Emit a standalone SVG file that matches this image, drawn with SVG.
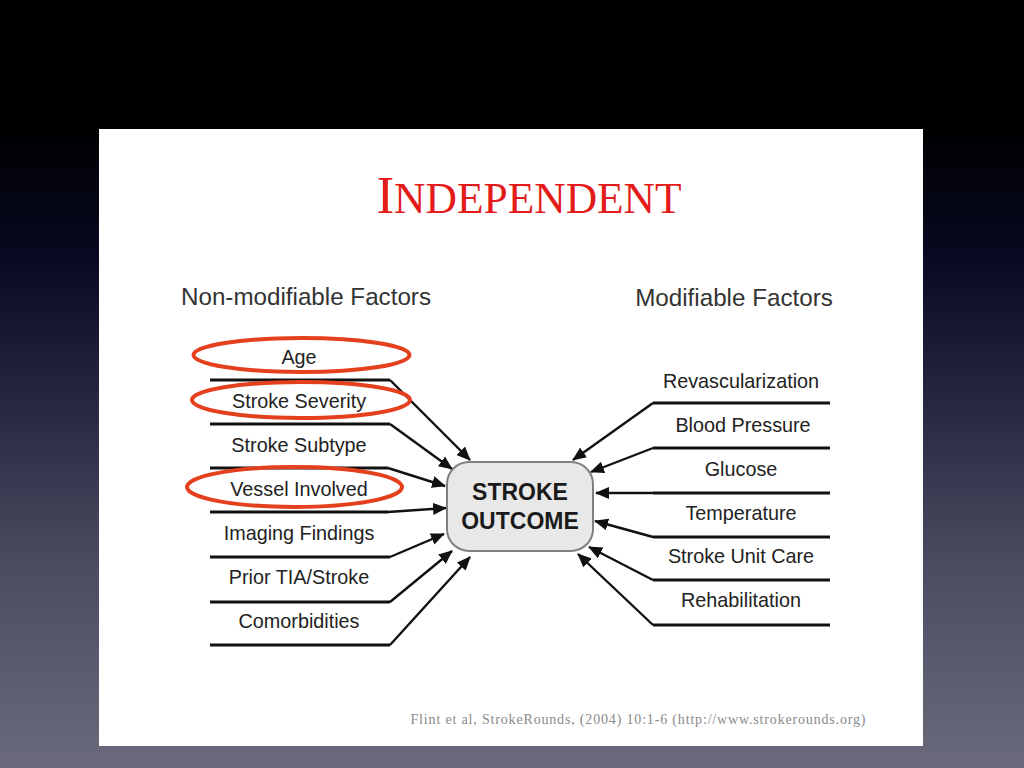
<svg xmlns="http://www.w3.org/2000/svg" width="1024" height="768" viewBox="0 0 1024 768">
<defs>
<linearGradient id="bg" x1="0" y1="0" x2="0" y2="768" gradientUnits="userSpaceOnUse">
<stop offset="0" stop-color="#000"/>
<stop offset="0.16" stop-color="#000"/>
<stop offset="0.33" stop-color="#070920"/>
<stop offset="0.52" stop-color="#25273f"/>
<stop offset="0.73" stop-color="#4a4b60"/>
<stop offset="1" stop-color="#6a6a7c"/>
</linearGradient>
<marker id="ah" viewBox="0 0 14 12" refX="13" refY="6" markerWidth="14" markerHeight="12" markerUnits="userSpaceOnUse" orient="auto">
<path d="M0,0 L14,6 L0,12 Z" fill="#111"/>
</marker>
<style>
.lbl{font-family:"Liberation Sans",Arial,sans-serif;font-size:19.8px;fill:#222;text-anchor:middle}
.hdr{font-family:"Liberation Sans",Arial,sans-serif;font-size:24.2px;fill:#333;text-anchor:middle}
.ln{fill:none;stroke:#111;stroke-width:2.8}
.arr{fill:none;stroke:#111;stroke-width:2.4;marker-end:url(#ah)}
.ring{fill:none;stroke:#e5401e;stroke-width:4}
</style>
</defs>
<rect width="1024" height="768" fill="url(#bg)"/>
<rect x="99" y="129" width="824" height="617" fill="#fff"/>
<text x="529" y="213" font-family="'Liberation Serif','Times New Roman',serif" fill="#e31b1b" text-anchor="middle"><tspan font-size="53">I</tspan><tspan font-size="43.5">NDEPENDENT</tspan></text>
<text class="hdr" x="306" y="305">Non-modifiable Factors</text>
<text class="hdr" x="734" y="306">Modifiable Factors</text>

<g id="connectors">
<path class="ln" d="M210,380 H390"/>
<path class="arr" d="M390,380 L470,460"/>
<path class="ln" d="M210,424 H390"/>
<path class="arr" d="M390,424 L452,469"/>
<path class="ln" d="M210,468 H388"/>
<path class="arr" d="M388,468 L445,486"/>
<path class="ln" d="M210,512 H388"/>
<path class="arr" d="M388,512 L446,508"/>
<path class="ln" d="M210,557 H390"/>
<path class="arr" d="M390,557 L444,534"/>
<path class="ln" d="M210,602 H390"/>
<path class="arr" d="M390,602 L452,551"/>
<path class="ln" d="M210,645 H390"/>
<path class="arr" d="M390,645 L470,557"/>

<path class="ln" d="M653,403 H830"/>
<path class="arr" d="M653,403 L573,460"/>
<path class="ln" d="M653,448 H830"/>
<path class="arr" d="M653,448 L591,472"/>
<path class="ln" d="M653,493 H830"/>
<path class="arr" d="M653,493 L596,493"/>
<path class="ln" d="M653,537 H830"/>
<path class="arr" d="M653,537 L595,521"/>
<path class="ln" d="M653,580 H830"/>
<path class="arr" d="M653,580 L589,547"/>
<path class="ln" d="M653,625 H830"/>
<path class="arr" d="M653,625 L578,554"/>
</g>

<g id="outcome">
<rect x="447" y="462" width="146" height="89" rx="22" fill="#e8e8e8" stroke="#808080" stroke-width="2"/>
<text x="520" y="500" font-family="'Liberation Sans',Arial,sans-serif" font-size="23" font-weight="bold" fill="#1a1a1a" text-anchor="middle">STROKE</text>
<text x="520" y="529" font-family="'Liberation Sans',Arial,sans-serif" font-size="23" font-weight="bold" fill="#1a1a1a" text-anchor="middle">OUTCOME</text>
</g>

<g id="age"><text class="lbl" x="299" y="364">Age</text></g>
<g id="severity"><text class="lbl" x="299" y="408">Stroke Severity</text></g>
<g id="subtype"><text class="lbl" x="299" y="452">Stroke Subtype</text></g>
<g id="vessel"><text class="lbl" x="299" y="496">Vessel Involved</text></g>
<g id="imaging"><text class="lbl" x="299" y="540">Imaging Findings</text></g>
<g id="prior"><text class="lbl" x="299" y="584">Prior TIA/Stroke</text></g>
<g id="comorb"><text class="lbl" x="299" y="628">Comorbidities</text></g>

<g id="revasc"><text class="lbl" x="741" y="388">Revascularization</text></g>
<g id="bp"><text class="lbl" x="743" y="432">Blood Pressure</text></g>
<g id="glucose"><text class="lbl" x="741" y="476">Glucose</text></g>
<g id="temp"><text class="lbl" x="741" y="520">Temperature</text></g>
<g id="suc"><text class="lbl" x="741" y="563">Stroke Unit Care</text></g>
<g id="rehab"><text class="lbl" x="741" y="607">Rehabilitation</text></g>

<g id="highlights">
<ellipse class="ring" cx="301.5" cy="355" rx="108" ry="17"/>
<ellipse class="ring" cx="301" cy="400" rx="109" ry="18"/>
<ellipse class="ring" cx="294.5" cy="487" rx="107.5" ry="20"/>
</g>

<text x="638" y="724" font-family="'Liberation Serif','Times New Roman',serif" font-size="14" fill="#8a8a8a" text-anchor="middle" textLength="455" lengthAdjust="spacing">Flint et al, StrokeRounds, (2004) 10:1-6 (http://www.strokerounds.org)</text>
</svg>
